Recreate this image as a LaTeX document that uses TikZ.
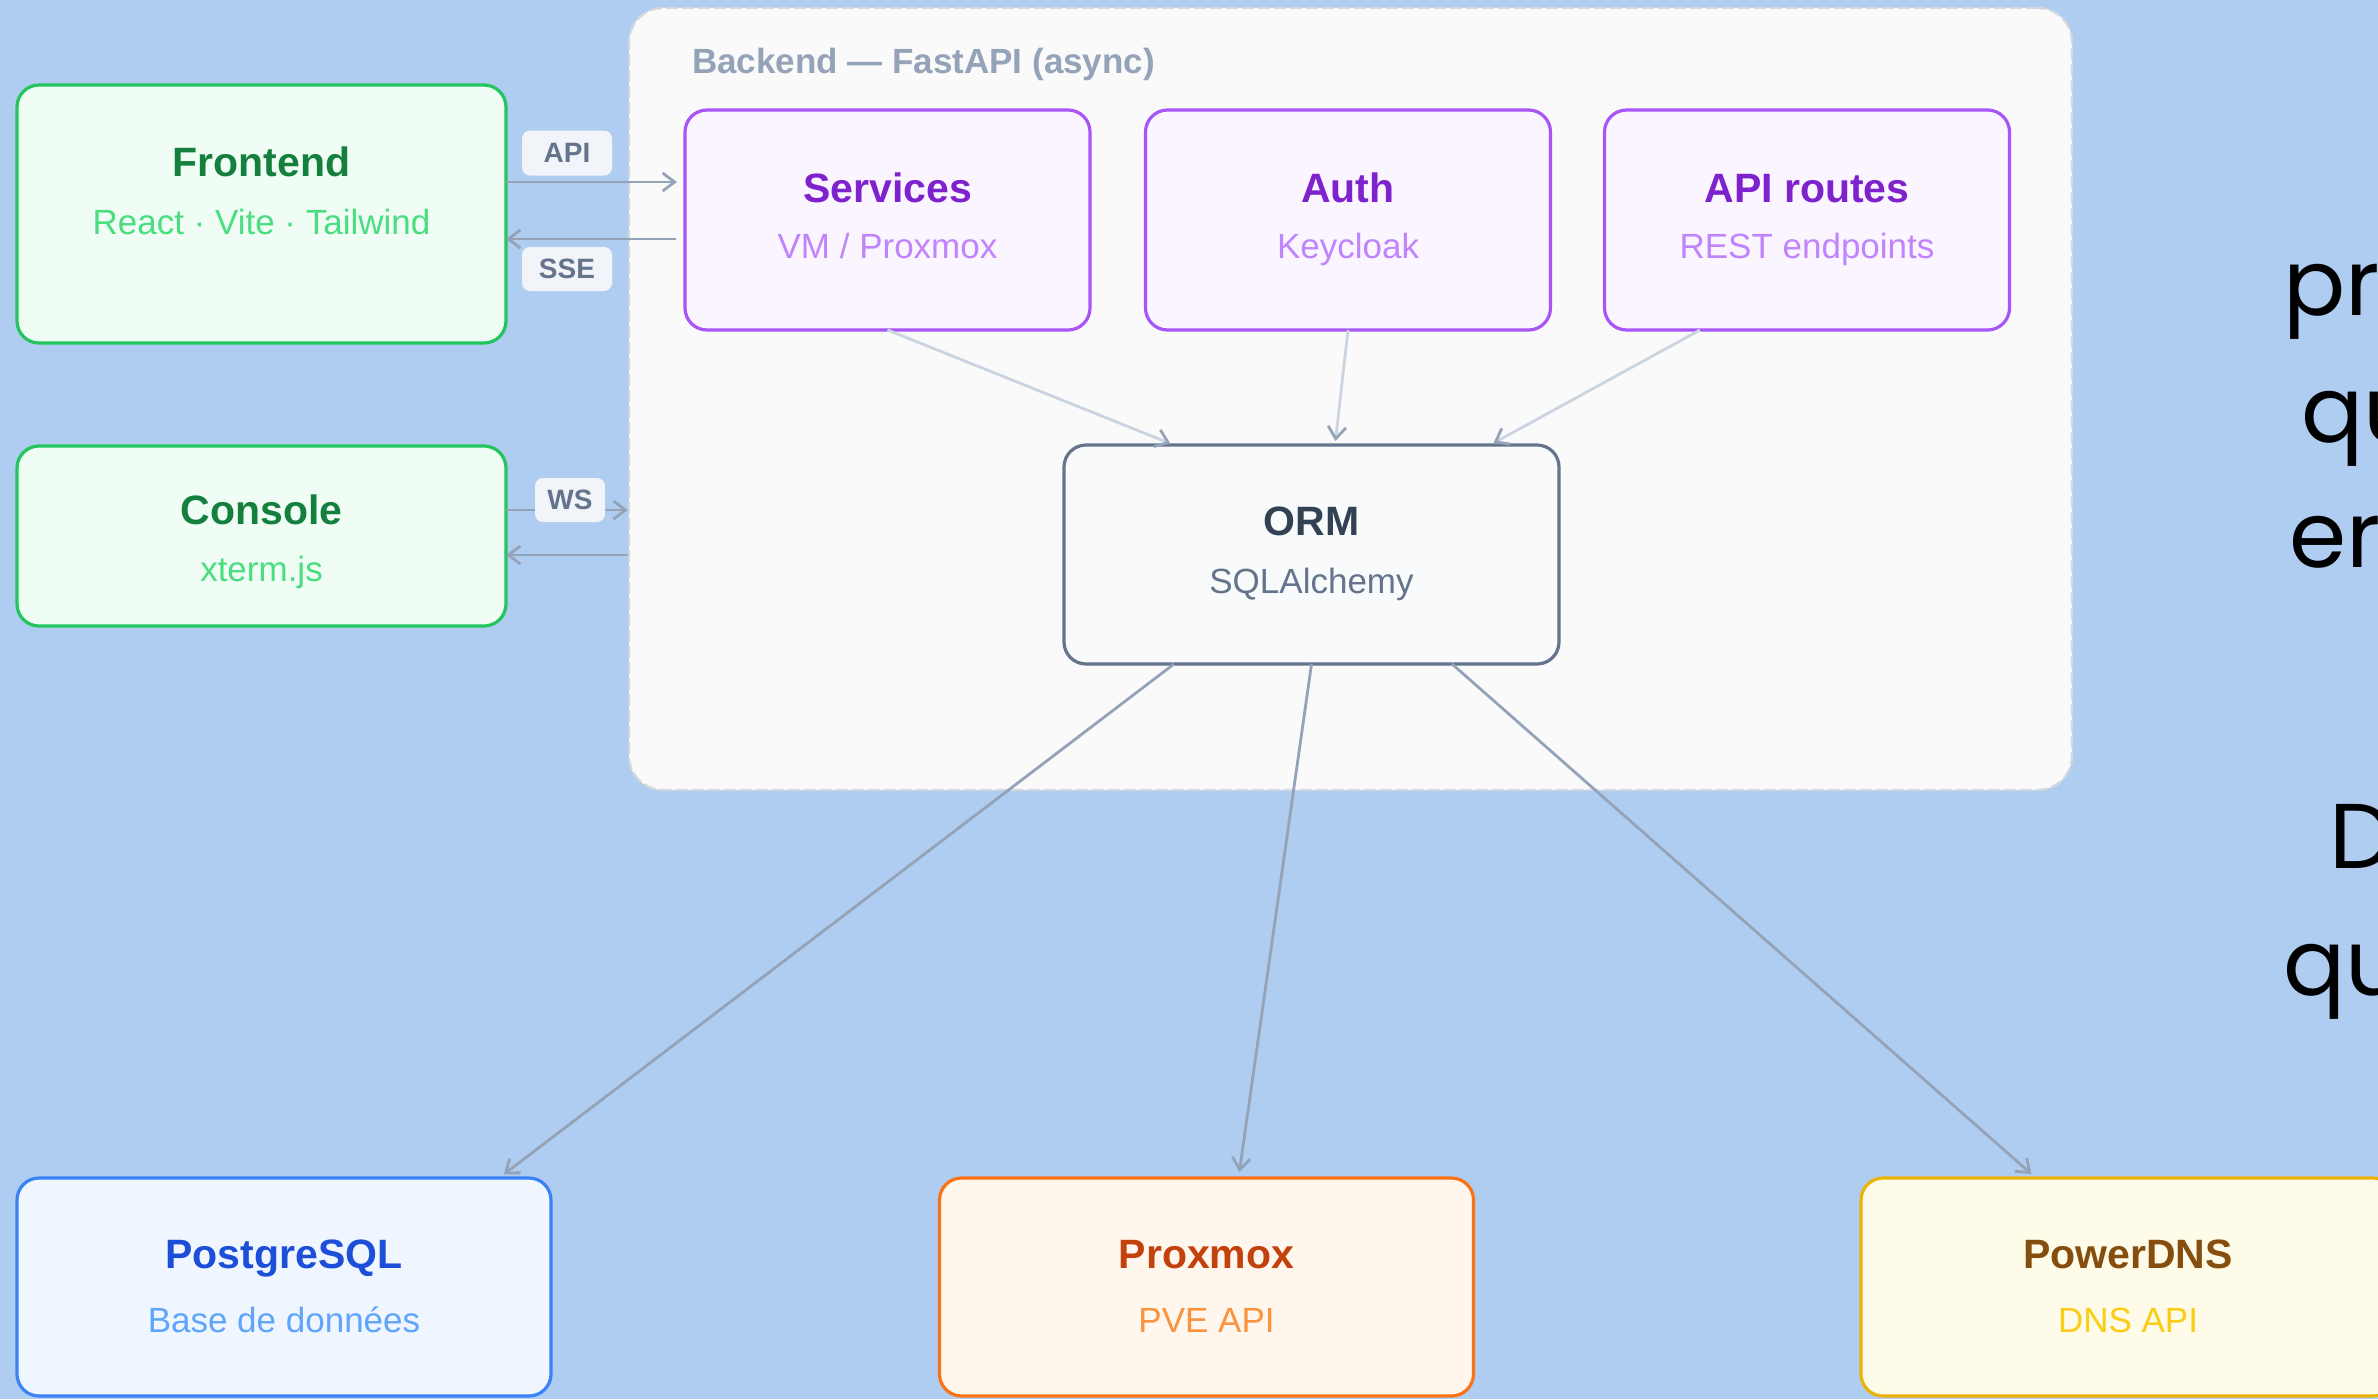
\documentclass[tikz,border=0pt]{standalone}
\usepackage{fontspec}
\setmainfont{Liberation Sans}
\newfontfamily\popfont{Poppins}
\usetikzlibrary{arrows.meta}

\definecolor{bgblue}{HTML}{AFCDF0}
\definecolor{backfill}{HTML}{FAFAFA}
\definecolor{backline}{HTML}{D3D8DF}
\definecolor{backtxt}{HTML}{94A3B8}
\definecolor{grnfill}{HTML}{F0FDF4}
\definecolor{grnline}{HTML}{22C55E}
\definecolor{grnttl}{HTML}{15803D}
\definecolor{grnsub}{HTML}{4ADE80}
\definecolor{purfill}{HTML}{FAF5FF}
\definecolor{purline}{HTML}{A855F7}
\definecolor{purttl}{HTML}{7E22CE}
\definecolor{pursub}{HTML}{C084FC}
\definecolor{slafill}{HTML}{F8FAFC}
\definecolor{slaline}{HTML}{64748B}
\definecolor{slattl}{HTML}{334155}
\definecolor{blufill}{HTML}{EFF6FF}
\definecolor{bluline}{HTML}{3B82F6}
\definecolor{bluttl}{HTML}{1D4ED8}
\definecolor{blusub}{HTML}{60A5FA}
\definecolor{orafill}{HTML}{FFF7ED}
\definecolor{oraline}{HTML}{F97316}
\definecolor{orattl}{HTML}{C2410C}
\definecolor{orasub}{HTML}{FB923C}
\definecolor{yelfill}{HTML}{FEFCE8}
\definecolor{yelline}{HTML}{EAB308}
\definecolor{yelttl}{HTML}{854D0E}
\definecolor{yelsub}{HTML}{FACC15}
\definecolor{tagbg}{HTML}{F1F5F9}
\definecolor{linkc}{HTML}{94A3B8}
\definecolor{softc}{HTML}{CBD5E1}

\begin{document}
\begin{tikzpicture}[x=0.5pt,y=-0.5pt,
  box/.style={draw,rounded corners=11pt,line width=1.6pt,inner sep=0pt,outer sep=0pt},
  ttl/.style={anchor=base,font=\fontsize{20.5}{24}\selectfont\bfseries},
  sub/.style={anchor=base,font=\fontsize{17.5}{21}\selectfont},
  tag/.style={fill=tagbg,rounded corners=4pt,inner sep=0pt,text=slaline,font=\fontsize{14}{16}\selectfont\bfseries},
  link/.style={draw=linkc,line width=1.4pt,-{Straight Barb[length=6pt,width=9pt]}},
  soft/.style={draw=softc,line width=1.4pt,-{Straight Barb[length=6pt,width=9pt,color=linkc]}},
  big/.style={anchor=base west,font=\popfont\fontsize{46}{50}\selectfont}]
\useasboundingbox (0,0) rectangle (2378,1399);
\clip (0,0) rectangle (2378,1399);
\fill[bgblue] (0,0) rectangle (2378,1399);

% backend container
\node[draw=backline,fill=backfill,dash pattern=on 6pt off 2pt,line width=1.2pt,rounded corners=17pt,
  minimum width=721.5pt,minimum height=391pt] (backend) at (1350.5,399) {};
\node[anchor=base west,text=backtxt,font=\fontsize{17.5}{21}\selectfont\bfseries] (backendT) at (685,73) {Backend --- FastAPI (async)};

% clients
\node[box,draw=grnline,fill=grnfill,minimum width=244.5pt,minimum height=129pt] (frontend) at (261.5,214) {};
\node[ttl,text=grnttl] (frontendT) at (261.5,176) {Frontend};
\node[sub,text=grnsub] (frontendS) at (261.5,234) {React · Vite · Tailwind};
\node[box,draw=grnline,fill=grnfill,minimum width=244.5pt,minimum height=90pt] (console) at (261.5,536) {};
\node[ttl,text=grnttl] (consoleT) at (261.5,524) {Console};
\node[sub,text=grnsub] (consoleS) at (261.5,581) {xterm.js};

% backend parts
\node[box,draw=purline,fill=purfill,minimum width=202.5pt,minimum height=110pt] (services) at (887.5,220) {};
\node[ttl,text=purttl] (servicesT) at (887.5,202) {Services};
\node[sub,text=pursub] (servicesS) at (887.5,258) {VM / Proxmox};
\node[box,draw=purline,fill=purfill,minimum width=202.5pt,minimum height=110pt] (auth) at (1348,220) {};
\node[ttl,text=purttl] (authT) at (1348,202) {Auth};
\node[sub,text=pursub] (authS) at (1348,258) {Keycloak};
\node[box,draw=purline,fill=purfill,minimum width=202.5pt,minimum height=110pt] (routes) at (1807,220) {};
\node[ttl,text=purttl] (routesT) at (1807,202) {API routes};
\node[sub,text=pursub] (routesS) at (1807,258) {REST endpoints};
\node[box,draw=slaline,fill=slafill,minimum width=247.5pt,minimum height=109.5pt] (orm) at (1311.5,554.5) {};
\node[ttl,text=slattl] (ormT) at (1311.5,535) {ORM};
\node[sub,text=slaline] (ormS) at (1311.5,593) {SQLAlchemy};

% external systems
\node[box,draw=bluline,fill=blufill,minimum width=267pt,minimum height=109pt] (pg) at (284,1287) {};
\node[ttl,text=bluttl] (pgT) at (284,1268) {PostgreSQL};
\node[sub,text=blusub] (pgS) at (284,1332) {Base de données};
\node[box,draw=oraline,fill=orafill,minimum width=267pt,minimum height=109pt] (pve) at (1206.5,1287) {};
\node[ttl,text=orattl] (pveT) at (1206.5,1268) {Proxmox};
\node[sub,text=orasub] (pveS) at (1206.5,1332) {PVE API};
\node[box,draw=yelline,fill=yelfill,minimum width=267pt,minimum height=109pt] (pdns) at (2128,1287) {};
\node[ttl,text=yelttl] (pdnsT) at (2128,1268) {PowerDNS};
\node[sub,text=yelsub] (pdnsS) at (2128,1332) {DNS API};

% client links
\draw[link,shorten >=4pt] ([yshift=16pt]frontend.east) -- ([yshift=16pt]frontend.east -| services.west);
\draw[link,shorten <=4.5pt] ([yshift=-9.5pt]services.west) -- ([yshift=-9.5pt]services.west -| frontend.east);
\draw[link] ([yshift=13pt]console.east) -- ([yshift=13pt]console.east -| backend.west);
\draw[link] ([yshift=-9.5pt]console.east -| backend.west) -- ([yshift=-9.5pt]console.east);
\node[tag,minimum width=45pt,minimum height=22.5pt] (apiTag) at (567,153) {API};
\node[tag,minimum width=45pt,minimum height=22pt] (sseTag) at (567,269) {SSE};
\node[tag,minimum width=35pt,minimum height=22pt] (wsTag) at (570,500) {WS};

% to the ORM
\draw[soft,shorten >=2pt] (services.south) -- ([xshift=55pt]orm.north west);
\draw[soft,shorten >=2pt] (auth.south) -- ([xshift=11.75pt]orm.north);
\draw[soft,shorten >=2pt] ([xshift=-53.5pt]routes.south) -- ([xshift=-34.5pt]orm.north east);

% from the ORM
\draw[link,shorten >=3pt] ([xshift=55pt]orm.south west) -- ([xshift=-26pt]pg.north east);
\draw[link,shorten >=3pt] (orm.south) -- ([xshift=16pt]pve.north);
\draw[link,shorten >=3pt] ([xshift=-53.5pt]orm.south east) -- ([xshift=87.5pt]pdns.north west);

% cut text on the right
\node[big] (txtA) at (2276,315) {pr};
\node[big] (txtB) at (2294,442) {qu};
\node[big] (txtC) at (2282,567) {er};
\node[big] (txtD) at (2322,868) {D};
\node[big] (txtE) at (2276,995) {qu};
\end{tikzpicture}
\end{document}
